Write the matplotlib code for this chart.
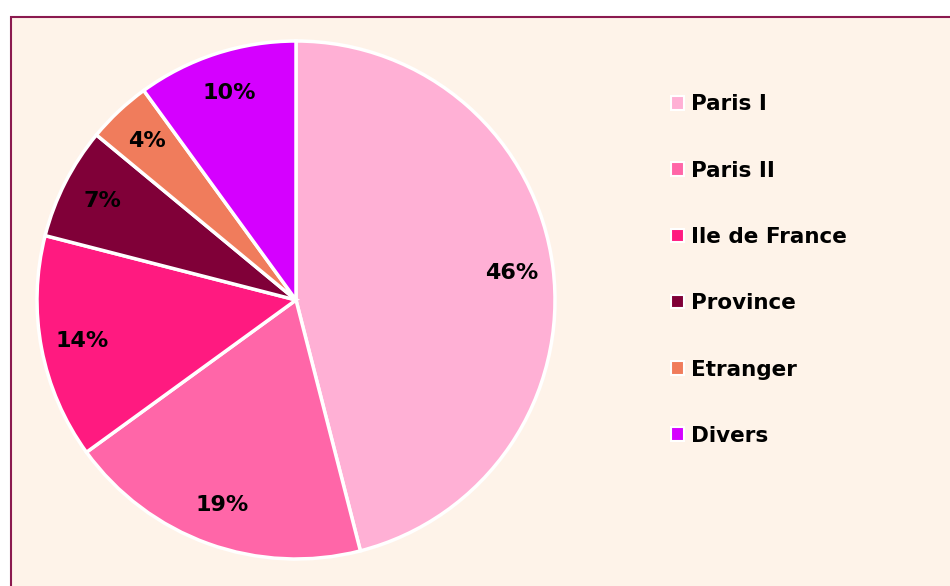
import matplotlib.pyplot as plt
from matplotlib.patches import Rectangle, Patch

# donnees du graphique
regions = ["Paris I", "Paris II", "Ile de France", "Province", "Etranger", "Divers"]
parts = [46, 19, 14, 7, 4, 10]
couleurs = ["#FFB0D5", "#FF66A8", "#FF1A80", "#800038", "#F07C5C", "#D500FF"]

fig = plt.figure(figsize=(9.5, 5.86), dpi=100, facecolor="white")

# fond creme avec bordure bordeaux
fond = Rectangle((11 / 950, -0.05), 1.05, 1 - 17 / 586 + 0.05, transform=fig.transFigure,
                 facecolor="#FEF3E9", edgecolor="#8B1A4F", linewidth=1.5, zorder=-10)
fig.patches.append(fond)

ax = fig.add_axes([37 / 950, 27 / 586, 518 / 950, 518 / 586])
ax.set_facecolor("none")
ax.set_zorder(5)
wedges, textes, pcts = ax.pie(parts, colors=couleurs, startangle=90, counterclock=False,
                              autopct="%1.0f%%", pctdistance=0.84,
                              wedgeprops=dict(edgecolor="white", linewidth=2.5),
                              textprops=dict(fontsize=16, fontweight="bold", color="black"))
ax.set_xlim(-1.0, 1.0)
ax.set_ylim(-1.0, 1.0)
ax.set_aspect("equal")
ax.axis("off")

handles = [Patch(facecolor=c, edgecolor="white", linewidth=1.5) for c in couleurs]
leg = fig.legend(handles, regions, loc="upper left", bbox_to_anchor=(652 / 950, 1 - 75 / 586),
                 frameon=False, prop=dict(weight="bold", size=15.5),
                 handlelength=0.6, handleheight=0.6, handletextpad=0.3, labelspacing=2.15)
leg.set_zorder(6)

fig.savefig("out.png", dpi=100, facecolor="white")
